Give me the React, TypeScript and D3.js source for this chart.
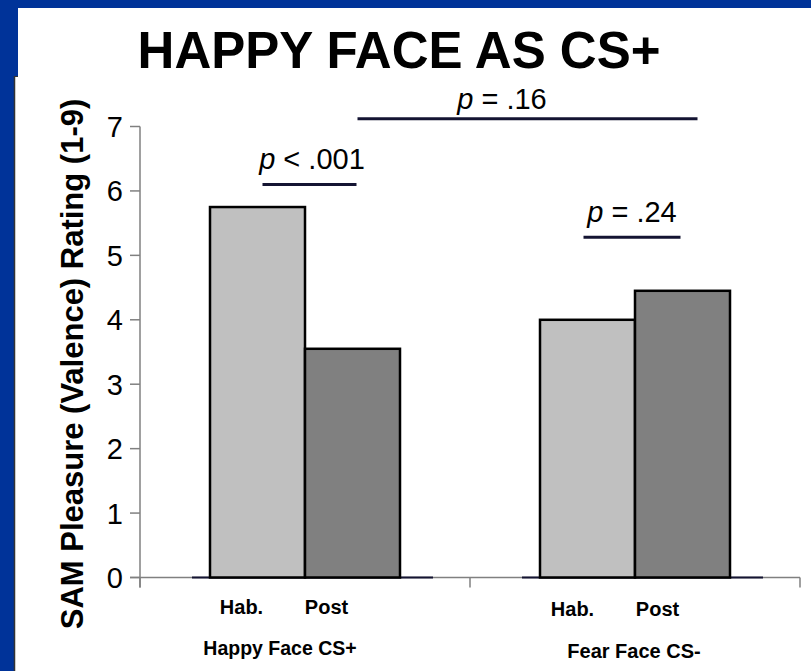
import React from "react";
import * as d3 from "d3";

const groups = ["Happy Face CS+", "Fear Face CS-"];
const conditions = ["Hab.", "Post"];
const happyValues = [5.75, 3.55];
const fearValues = [4.0, 4.45];
const yTicks = [0, 1, 2, 3, 4, 5, 6, 7];
const title = "HAPPY FACE AS CS+";
const yLabel = "SAM Pleasure (Valence) Rating (1-9)";
const sigLabels = ["p < .001", "p = .24", "p = .16"];
const sigLevels = [6.1, 5.28, 7.12];

const W = 811;
const H = 671;
const BLUE = "#003399";
const NAVY = "#141432";

export default function App() {
  const y = d3.scaleLinear().domain([0, 7]).range([577.5, 126.5]);
  const x = d3.scaleBand().domain(groups).range([140, 800]).padding(0);
  const inner = d3.scaleBand().domain(conditions).range([-95, 95]).padding(0);
  const fills = ["#C0C0C0", "#808080"];
  const series = [happyValues, fearValues];

  const gc = (g: string) => (x(g) as number) + x.bandwidth() / 2;
  const cc = (g: string, c: string) => gc(g) + (inner(c) as number) + inner.bandwidth() / 2;

  const sigLines = [
    { x1: cc(groups[0], "Hab.") + 5, x2: cc(groups[0], "Post") + 4, text: sigLabels[0], lvl: sigLevels[0], tx: 312, dy: 15 },
    { x1: cc(groups[1], "Hab.") - 4, x2: cc(groups[1], "Post") - 2, text: sigLabels[1], lvl: sigLevels[1], tx: 632, dy: 15 },
    { x1: cc(groups[0], "Post") + 5, x2: cc(groups[1], "Post") + 15, text: sigLabels[2], lvl: sigLevels[2], tx: 502, dy: 10 },
  ];

  const font = "'Liberation Sans', Arial, Helvetica, sans-serif";
  const condOffset = [-16, -26];
  const groupOffset = [-25, -1];
  const groupFont = [19.5, 20];

  return (
    <svg
      width={W}
      height={H}
      style={{ position: "fixed", left: 0, top: 0, display: "block" }}
      fontFamily={font}
    >
      <rect x={0} y={0} width={W} height={H} fill={BLUE} />
      <rect x={18} y={8} width={W - 18} height={70} fill="#ffffff" />
      <rect x={15} y={76} width={W - 15} height={H - 76} fill="#ffffff" />
      <line x1={14.5} x2={14.5} y1={76} y2={H} stroke="#333" strokeWidth={1.5} />
      <line x1={14} x2={18} y1={76.5} y2={76.5} stroke="#333" strokeWidth={1} />

      <text x={399} y={68} textAnchor="middle" fontSize={51} fontWeight="bold" fill="#000">
        {title}
      </text>

      {/* y axis label */}
      <text
        transform={`translate(83,${364}) rotate(-90)`}
        textAnchor="middle"
        fontSize={31}
        fontWeight="bold"
        fill="#000"
      >
        {yLabel}
      </text>

      {/* y axis */}
      <line x1={140} x2={140} y1={y(7)} y2={y(0) + 10} stroke="#808080" strokeWidth={1.5} />
      {yTicks.map((t) => (
        <g key={t}>
          <line x1={130} x2={140} y1={y(t)} y2={y(t)} stroke="#808080" strokeWidth={1.5} />
          <text x={123} y={y(t)} dy="0.36em" textAnchor="end" fontSize={29} fill="#000">
            {t}
          </text>
        </g>
      ))}

      {/* x axis */}
      <line x1={130} x2={800} y1={y(0)} y2={y(0)} stroke="#808080" strokeWidth={1.5} />
      {[...groups.map((g) => x(g) as number), 800].map((v, i) => (
        <line key={i} x1={v} x2={v} y1={y(0)} y2={y(0) + 10} stroke="#808080" strokeWidth={1.5} />
      ))}

      {/* dark baselines */}
      {groups.map((g) => (
        <line
          key={g}
          x1={gc(g) - 113}
          x2={gc(g) + 128}
          y1={y(0)}
          y2={y(0)}
          stroke={NAVY}
          strokeWidth={2}
        />
      ))}

      {/* bars */}
      {groups.map((g, gi) =>
        conditions.map((c, ci) => (
          <rect
            key={g + c}
            x={gc(g) + (inner(c) as number)}
            y={y(series[gi][ci])}
            width={inner.bandwidth()}
            height={y(0) - y(series[gi][ci])}
            fill={fills[ci]}
            stroke="#000"
            strokeWidth={2.5}
          />
        ))
      )}

      {/* condition labels */}
      {groups.map((g, gi) =>
        conditions.map((c, ci) => (
          <text
            key={g + c + "l"}
            x={cc(g, c) + condOffset[ci] + (gi === 1 ? 1 : 0)}
            y={614 + gi * 2}
            textAnchor="middle"
            fontSize={20}
            fontWeight="bold"
            fill="#000"
          >
            {c}
          </text>
        ))
      )}
      {groups.map((g, gi) => (
        <text
          key={g + "g"}
          x={gc(g) + groupOffset[gi]}
          y={655 + gi * 3}
          textAnchor="middle"
          fontSize={groupFont[gi]}
          fontWeight="bold"
          fill="#000"
        >
          {g}
        </text>
      ))}

      {/* significance */}
      {sigLines.map((s, i) => (
        <g key={i}>
          <line x1={s.x1} x2={s.x2} y1={y(s.lvl)} y2={y(s.lvl)} stroke={NAVY} strokeWidth={3} />
          <text x={s.tx} y={y(s.lvl) - s.dy} textAnchor="middle" fontSize={29} fill="#000">
            <tspan fontStyle="italic">{s.text.slice(0, 1)}</tspan>
            {s.text.slice(1)}
          </text>
        </g>
      ))}
    </svg>
  );
}
